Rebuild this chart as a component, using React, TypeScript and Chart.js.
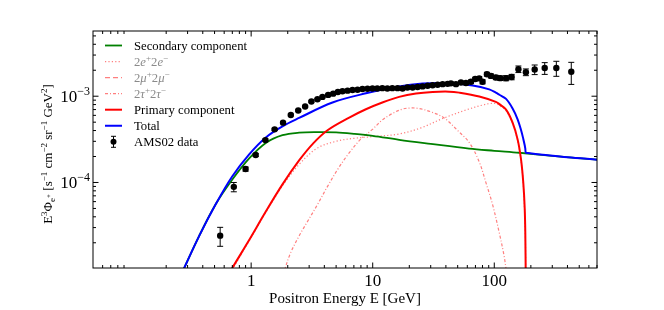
import React, { useEffect, useRef } from "react";
import { Chart, registerables } from "chart.js";

Chart.register(...registerables);

// ---------------- data ----------------
const amsEnergy = [0.556, 0.72, 0.9, 1.09, 1.31, 1.56, 1.83, 2.12, 2.44, 2.78, 3.13, 3.51, 3.86, 4.3, 4.73, 5.17, 5.64, 6.21, 6.82, 7.5, 8.24, 9.06, 9.96, 10.9, 12.0, 13.2, 14.5, 16.0, 17.6, 19.3, 21.3, 23.4, 25.7, 28.3, 31.1, 34.2, 37.6, 41.3, 44.0, 48.4, 53.2, 58.5, 64.3, 69.7, 75.2, 80.1, 87.0, 93.9, 103, 112, 125, 139, 158, 182, 215, 260, 324, 430];
const amsFlux = [2.42e-5, 8.9e-5, 1.43e-4, 2.08e-4, 3.1e-4, 4.13e-4, 4.94e-4, 6.06e-4, 6.84e-4, 7.59e-4, 8.67e-4, 9.23e-4, 9.82e-4, 1.035e-3, 1.07e-3, 1.12e-3, 1.14e-3, 1.16e-3, 1.18e-3, 1.19e-3, 1.21e-3, 1.22e-3, 1.23e-3, 1.23e-3, 1.24e-3, 1.23e-3, 1.24e-3, 1.24e-3, 1.23e-3, 1.26e-3, 1.26e-3, 1.28e-3, 1.3e-3, 1.32e-3, 1.34e-3, 1.36e-3, 1.38e-3, 1.39e-3, 1.41e-3, 1.38e-3, 1.44e-3, 1.42e-3, 1.47e-3, 1.58e-3, 1.61e-3, 1.47e-3, 1.8e-3, 1.72e-3, 1.65e-3, 1.62e-3, 1.62e-3, 1.67e-3, 2.06e-3, 1.9e-3, 2.04e-3, 2.12e-3, 2.12e-3, 1.92e-3];
const amsError = [6e-6, 1.1e-5, 8e-6, 8e-6, 1e-5, 1.2e-5, 1.2e-5, 1.4e-5, 1.5e-5, 1.6e-5, 1.8e-5, 1.9e-5, 2e-5, 2.1e-5, 2.2e-5, 2.3e-5, 2.3e-5, 2.4e-5, 2.4e-5, 2.4e-5, 2.5e-5, 2.5e-5, 2.5e-5, 2.5e-5, 2.6e-5, 2.6e-5, 2.7e-5, 2.8e-5, 2.9e-5, 3e-5, 3.1e-5, 3.3e-5, 3.5e-5, 3.7e-5, 4e-5, 4.2e-5, 4.5e-5, 4.8e-5, 5e-5, 5.3e-5, 5.8e-5, 6.2e-5, 7e-5, 7.5e-5, 8e-5, 8e-5, 9e-5, 9e-5, 9.5e-5, 1e-4, 1.1e-4, 1.2e-4, 1.8e-4, 1.7e-4, 2.6e-4, 3.3e-4, 4.2e-4, 5.5e-4];

const secondaryEnergy = [0.27, 0.373, 0.512, 0.698, 0.963, 1.32, 1.81, 2.48, 3.5, 5, 7, 10, 16.5, 30, 62, 100, 161, 300, 700];
const secondaryFlux = [9e-6, 2.39e-5, 5.62e-5, 1.075e-4, 1.9e-4, 2.87e-4, 3.53e-4, 3.78e-4, 3.83e-4, 3.8e-4, 3.66e-4, 3.47e-4, 3.12e-4, 2.8e-4, 2.47e-4, 2.33e-4, 2.21e-4, 2.03e-4, 1.84e-4];

const eeEnergy = [0.675, 0.963, 1.32, 1.81, 2.48, 3.5, 5, 7, 10, 16.5, 25, 38.7, 60, 80, 91, 103, 115, 125, 141.5, 155.6, 166, 173.3, 180, 181.5];
const eeFlux = [9e-6, 2.1e-5, 4.5e-5, 9.1e-5, 1.62e-4, 2.5e-4, 3.0e-4, 3.25e-4, 3.4e-4, 3.65e-4, 4.3e-4, 5.6e-4, 7.0e-4, 7.9e-4, 8.2e-4, 8.2e-4, 7.5e-4, 6.8e-4, 4.8e-4, 3.05e-4, 1.8e-4, 9.6e-5, 2.5e-5, 7.5e-6];

const mumuEnergy: number[] = [];
const mumuFlux: number[] = [];

const tautauEnergy = [1.85, 2.1, 2.48, 3.0, 3.5, 4.25, 5.2, 6.4, 8, 9.9, 12, 14.5, 17.6, 20.5, 24, 30, 38.7, 50, 62.3, 75, 85.5, 97, 110, 120, 125, 128];
const tautauFlux = [9e-6, 1.5e-5, 2.4e-5, 3.8e-5, 5.5e-5, 9e-5, 1.45e-4, 2.2e-4, 3.2e-4, 4.1e-4, 5.3e-4, 6.3e-4, 7.1e-4, 7.3e-4, 7.2e-4, 6.6e-4, 5.6e-4, 4.0e-4, 2.9e-4, 1.75e-4, 9.9e-5, 5.5e-5, 2.6e-5, 1.45e-5, 1.0e-5, 8e-6];

const primaryEnergy = [0.675, 0.694, 0.963, 1.32, 1.81, 2.48, 3.24, 4.25, 6.41, 8.79, 12.0, 16.5, 22.7, 31.1, 42.6, 51.4, 75.3, 103, 110, 125, 141.5, 155.6, 166, 173.3, 178, 180, 181.5];
const primaryFlux = [9.2e-6, 1e-5, 2.15e-5, 4.6e-5, 9.5e-5, 1.8e-4, 2.84e-4, 4.03e-4, 5.65e-4, 7.06e-4, 8.45e-4, 9.82e-4, 1.075e-3, 1.12e-3, 1.13e-3, 1.1e-3, 9.92e-4, 8.6e-4, 8.1e-4, 7.0e-4, 4.94e-4, 3.16e-4, 1.85e-4, 9.9e-5, 5e-5, 2.6e-5, 8e-6];

const totalEnergy = [0.27, 0.373, 0.512, 0.698, 0.963, 1.32, 1.81, 2.48, 4.67, 8.79, 16.5, 25.7, 40, 66.3, 90.9, 103, 110, 125, 141.5, 155.6, 166, 173.3, 178, 180, 182, 190, 250, 400, 700];
const totalFlux = [9e-6, 2.39e-5, 5.62e-5, 1.175e-4, 2.12e-4, 3.33e-4, 4.48e-4, 5.6e-4, 8.45e-4, 1.08e-3, 1.3e-3, 1.4e-3, 1.42e-3, 1.33e-3, 1.2e-3, 1.1e-3, 1.04e-3, 9.3e-4, 7.2e-4, 5.4e-4, 4.05e-4, 3.2e-4, 2.7e-4, 2.46e-4, 2.21e-4, 2.19e-4, 2.1e-4, 1.96e-4, 1.84e-4];

// axes
const xRange = [0.05, 700];
const yRange = [1.02e-5, 5.7e-3];
const xMajorTicks = [1, 10, 100];
const xTickLabels = ["1", "10", "100"];
const xMinorTicks = [0.06, 0.07, 0.08, 0.09, 0.2, 0.3, 0.4, 0.5, 0.6, 0.7, 0.8, 0.9, 2, 3, 4, 5, 6, 7, 8, 9, 20, 30, 40, 50, 60, 70, 80, 90, 200, 300, 400, 500, 600, 700];
const yMajorTicks = [1e-4, 1e-3];
const yTickExponents = ["\u22124", "\u22123"];
const yMinorTicks = [2e-5, 3e-5, 4e-5, 5e-5, 6e-5, 7e-5, 8e-5, 9e-5, 2e-4, 3e-4, 4e-4, 5e-4, 6e-4, 7e-4, 8e-4, 9e-4, 2e-3, 3e-3, 4e-3, 5e-3];

const xTitle = "Positron Energy E [GeV]";
const legendLabels = ["Secondary component", "2e+2e\u2212", "2\u03bc+2\u03bc\u2212", "2\u03c4+2\u03c4\u2212", "Primary component", "Total", "AMS02 data"];

// ---------------- helpers ----------------
const SERIF = "'Liberation Serif', 'DejaVu Serif', serif";
const pts = (xs: number[], ys: number[]) => xs.map((x, i) => ({ x, y: ys[i] }));
const PALE = "rgba(255,0,0,0.5)";

type Seg = { t: string; font: string; dy?: number; color?: string };

function segsWidth(ctx: CanvasRenderingContext2D, segs: Seg[]) {
  let w = 0;
  for (const s of segs) {
    ctx.font = s.font;
    w += ctx.measureText(s.t).width;
  }
  return w;
}
function drawSegs(ctx: CanvasRenderingContext2D, segs: Seg[], x: number, y: number, color: string) {
  let cx = x;
  for (const s of segs) {
    ctx.font = s.font;
    ctx.fillStyle = s.color || color;
    ctx.fillText(s.t, cx, y + (s.dy || 0));
    cx += ctx.measureText(s.t).width;
  }
}

const LF = `12.7px ${SERIF}`;
const LFI = `italic 12.7px ${SERIF}`;
const LFS = `9px ${SERIF}`;
function pairSegs(sym: string): Seg[] {
  return [
    { t: "2", font: LF },
    { t: sym, font: LFI },
    { t: "+", font: LFS, dy: -5 },
    { t: "2", font: LF },
    { t: sym, font: LFI },
    { t: "\u2212", font: LFS, dy: -5 },
  ];
}

const errorBarPlugin = {
  id: "errorBars",
  beforeDatasetDraw(chart: any, args: any) {
    const ds = chart.data.datasets[args.index];
    if (!ds.isData) return;
    const { ctx } = chart;
    const xs = chart.scales.x;
    const ys = chart.scales.y;
    ctx.save();
    ctx.strokeStyle = "#000";
    ctx.lineWidth = 1;
    amsEnergy.forEach((e, i) => {
      const px = xs.getPixelForValue(e);
      const y1 = ys.getPixelForValue(amsFlux[i] + amsError[i]);
      const y2 = ys.getPixelForValue(Math.max(amsFlux[i] - amsError[i], 1e-7));
      ctx.beginPath();
      ctx.moveTo(px, y1);
      ctx.lineTo(px, y2);
      ctx.moveTo(px - 3, y1);
      ctx.lineTo(px + 3, y1);
      ctx.moveTo(px - 3, y2);
      ctx.lineTo(px + 3, y2);
      ctx.stroke();
    });
    ctx.restore();
  },
};

const axesPlugin = {
  id: "axesFrame",
  afterDraw(chart: any) {
    const { ctx, chartArea: a } = chart;
    const xs = chart.scales.x;
    const ys = chart.scales.y;
    ctx.save();
    ctx.strokeStyle = "#000";
    ctx.lineWidth = 1;
    const seg = (x1: number, y1: number, x2: number, y2: number) => {
      ctx.beginPath();
      ctx.moveTo(x1, y1);
      ctx.lineTo(x2, y2);
      ctx.stroke();
    };
    xMinorTicks.forEach((v) => {
      const p = xs.getPixelForValue(v);
      seg(p, a.bottom, p, a.bottom - 3);
      seg(p, a.top, p, a.top + 3);
    });
    xMajorTicks.forEach((v) => {
      const p = xs.getPixelForValue(v);
      seg(p, a.bottom, p, a.bottom - 5.5);
      seg(p, a.top, p, a.top + 5.5);
    });
    yMinorTicks.forEach((v) => {
      const p = ys.getPixelForValue(v);
      seg(a.left, p, a.left + 3, p);
      seg(a.right, p, a.right - 3, p);
    });
    yMajorTicks.forEach((v) => {
      const p = ys.getPixelForValue(v);
      seg(a.left, p, a.left + 5.5, p);
      seg(a.right, p, a.right - 5.5, p);
    });
    ctx.strokeRect(a.left, a.top, a.right - a.left, a.bottom - a.top);

    // tick labels
    ctx.fillStyle = "#000";
    ctx.textBaseline = "alphabetic";
    ctx.textAlign = "center";
    ctx.font = `17px ${SERIF}`;
    xMajorTicks.forEach((v, i) => {
      ctx.fillText(xTickLabels[i], xs.getPixelForValue(v), a.bottom + 18);
    });
    ctx.textAlign = "left";
    yMajorTicks.forEach((v, i) => {
      const p = ys.getPixelForValue(v);
      ctx.font = `12px ${SERIF}`;
      const we = ctx.measureText(yTickExponents[i]).width;
      ctx.font = `17px ${SERIF}`;
      const wb = ctx.measureText("10").width;
      const right = a.left - 3;
      ctx.fillText("10", right - we - wb, p + 6);
      ctx.font = `12px ${SERIF}`;
      ctx.fillText(yTickExponents[i], right - we, p - 1);
    });

    // x title
    ctx.font = `15px ${SERIF}`;
    ctx.textAlign = "center";
    ctx.fillText(xTitle, (a.left + a.right) / 2, 303);

    // y title (rotated)
    const F = `13px ${SERIF}`;
    const FS = `9px ${SERIF}`;
    const FSS = `7px ${SERIF}`;
    const ySegs: Seg[] = [
      { t: "E", font: F },
      { t: "3", font: FS, dy: -5 },
      { t: "\u03a6", font: F },
      { t: "e", font: FS, dy: 3 },
      { t: "+", font: FSS, dy: -1 },
      { t: " [s", font: F },
      { t: "\u22121", font: FS, dy: -5 },
      { t: " cm", font: F },
      { t: "\u22122", font: FS, dy: -5 },
      { t: " sr", font: F },
      { t: "\u22121", font: FS, dy: -5 },
      { t: " GeV", font: F },
      { t: "2", font: FS, dy: -5 },
      { t: "]", font: F },
    ];
    ctx.textAlign = "left";
    const w = segsWidth(ctx, ySegs);
    ctx.save();
    ctx.translate(52, 154);
    ctx.rotate(-Math.PI / 2);
    drawSegs(ctx, ySegs, -w / 2, 0, "#000");
    ctx.restore();

    // legend
    const rowY0 = 45.5;
    const step = 16.05;
    const hx1 = 105;
    const hx2 = 122;
    const tx = 134;
    const items: { segs: Seg[]; color: string; width: number; dash: number[]; text: string; kind: string }[] = [
      { segs: [{ t: legendLabels[0], font: LF }], color: "#008000", width: 1.8, dash: [], text: "#000", kind: "line" },
      { segs: pairSegs("e"), color: PALE, width: 1.2, dash: [1.2, 2.2], text: "#8a8a8a", kind: "line" },
      { segs: pairSegs("\u03bc"), color: PALE, width: 1.2, dash: [5, 3], text: "#8a8a8a", kind: "line" },
      { segs: pairSegs("\u03c4"), color: PALE, width: 1.2, dash: [3, 2, 1, 2], text: "#8a8a8a", kind: "line" },
      { segs: [{ t: legendLabels[4], font: LF }], color: "#ff0000", width: 2, dash: [], text: "#000", kind: "line" },
      { segs: [{ t: legendLabels[5], font: LF }], color: "#0000ff", width: 2, dash: [], text: "#000", kind: "line" },
      { segs: [{ t: legendLabels[6], font: LF }], color: "#000", width: 1, dash: [], text: "#000", kind: "point" },
    ];
    items.forEach((it, i) => {
      const y = rowY0 + i * step;
      ctx.save();
      if (it.kind === "line") {
        ctx.strokeStyle = it.color;
        ctx.lineWidth = it.width;
        ctx.setLineDash(it.dash);
        ctx.beginPath();
        ctx.moveTo(hx1, y);
        ctx.lineTo(hx2, y);
        ctx.stroke();
      } else {
        const cx = (hx1 + hx2) / 2;
        ctx.strokeStyle = "#000";
        ctx.lineWidth = 1;
        ctx.beginPath();
        ctx.moveTo(cx, y - 5.5);
        ctx.lineTo(cx, y + 5.5);
        ctx.moveTo(cx - 2.5, y - 5.5);
        ctx.lineTo(cx + 2.5, y - 5.5);
        ctx.moveTo(cx - 2.5, y + 5.5);
        ctx.lineTo(cx + 2.5, y + 5.5);
        ctx.stroke();
        ctx.fillStyle = "#000";
        ctx.beginPath();
        ctx.arc(cx, y, 3, 0, Math.PI * 2);
        ctx.fill();
      }
      ctx.restore();
      ctx.textAlign = "left";
      drawSegs(ctx, it.segs, tx, y + 4.5, it.text);
    });
    ctx.restore();
  },
};

export default function App() {
  const ref = useRef<HTMLCanvasElement>(null);
  useEffect(() => {
    const canvas = ref.current;
    if (!canvas) return;
    const common = { pointRadius: 0, fill: false, tension: 0.35 };
    const chart = new Chart(canvas, {
      type: "line",
      data: {
        datasets: [
          { ...common, label: legendLabels[0], data: pts(secondaryEnergy, secondaryFlux), borderColor: "#008000", borderWidth: 1.8, order: 3 },
          { ...common, label: legendLabels[1], data: pts(eeEnergy, eeFlux), borderColor: PALE, borderWidth: 1.2, borderDash: [1.2, 2.2], order: 4 },
          { ...common, label: legendLabels[2], data: pts(mumuEnergy, mumuFlux), borderColor: PALE, borderWidth: 1.2, borderDash: [5, 3], order: 4 },
          { ...common, label: legendLabels[3], data: pts(tautauEnergy, tautauFlux), borderColor: PALE, borderWidth: 1.2, borderDash: [3, 2, 1, 2], order: 4 },
          { ...common, label: legendLabels[4], data: pts(primaryEnergy, primaryFlux), borderColor: "#ff0000", borderWidth: 2, order: 2 },
          { ...common, label: legendLabels[5], data: pts(totalEnergy, totalFlux), borderColor: "#0000ff", borderWidth: 2, order: 1 },
          {
            label: legendLabels[6],
            data: pts(amsEnergy, amsFlux),
            showLine: false,
            pointRadius: 3.2,
            pointBackgroundColor: "#000",
            pointBorderColor: "#000",
            pointBorderWidth: 0,
            borderColor: "#000",
            backgroundColor: "#000",
            order: 0,
            isData: true,
          } as any,
        ],
      },
      options: {
        responsive: false,
        animation: false,
        devicePixelRatio: 1,
        events: [],
        layout: { padding: { left: 93, right: 67, top: 31, bottom: 42 } },
        plugins: { legend: { display: false }, tooltip: { enabled: false } },
        scales: {
          x: { type: "logarithmic", min: xRange[0], max: xRange[1], display: false },
          y: { type: "logarithmic", min: yRange[0], max: yRange[1], display: false },
        },
      },
      plugins: [errorBarPlugin, axesPlugin],
    });
    return () => chart.destroy();
  }, []);
  return (
    <div style={{ position: "fixed", left: 0, top: 0, width: 664, height: 310, background: "#fff" }}>
      <canvas ref={ref} width={664} height={310} style={{ display: "block", width: 664, height: 310 }} />
    </div>
  );
}
